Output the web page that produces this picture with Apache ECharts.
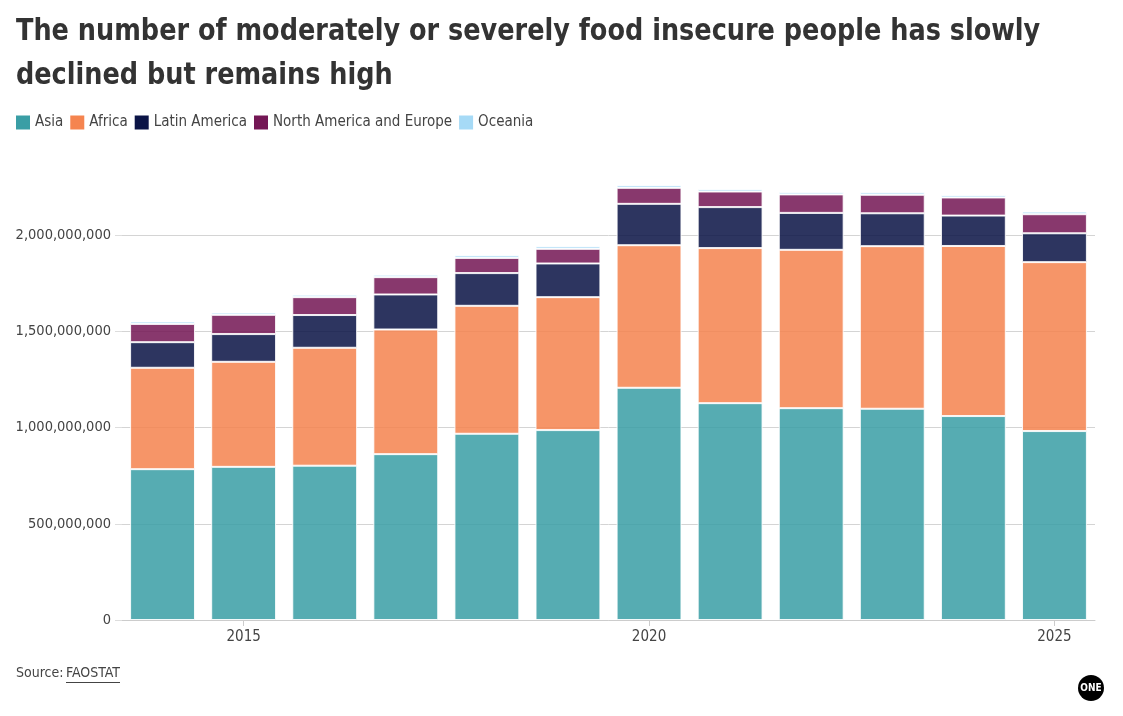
<!DOCTYPE html>
<html>
<head>
<meta charset="utf-8">
<title>Food insecurity by region</title>
<script src="https://cdn.jsdelivr.net/npm/echarts@6/dist/echarts.min.js"></script>
<style>
  html, body { margin: 0; padding: 0; background: #fff; }
  #main { width: 1123px; height: 716px; }
</style>
</head>
<body>
<div id="main"></div>
<script>
// data (people, moderately or severely food insecure)
var years = ['2014', '2015', '2016', '2017', '2018', '2019', '2020', '2021', '2022', '2023', '2024', '2025'];
var asia = [784e6, 796e6, 802e6, 862e6, 968e6, 987e6, 1207e6, 1127e6, 1101e6, 1098e6, 1060e6, 982e6];
var africa = [527e6, 546e6, 613e6, 648e6, 665e6, 691e6, 741e6, 806e6, 823e6, 845e6, 884e6, 878e6];
var latinAmerica = [133e6, 144e6, 170e6, 182e6, 170e6, 175e6, 215e6, 213e6, 192e6, 171e6, 158e6, 150e6];
var northAmEurope = [95e6, 100e6, 93e6, 90e6, 79e6, 76e6, 83e6, 81e6, 96e6, 96e6, 94e6, 99e6];
var oceania = [13e6, 12e6, 13e6, 13e6, 14e6, 14e6, 14e6, 13e6, 12e6, 13e6, 13e6, 14e6];
var yTicks = [0, 500e6, 1000e6, 1500e6, 2000e6];

var FONT = "'Liberation Sans Narrow', 'DejaVu Sans Condensed', Roboto, sans-serif";

var seriesDefs = [
  { name: 'Asia', data: asia, color: '#3a9ea5' },
  { name: 'Africa', data: africa, color: '#f5844f' },
  { name: 'Latin America', data: latinAmerica, color: '#0b1446' },
  { name: 'North America and Europe', data: northAmEurope, color: '#741755' },
  { name: 'Oceania', data: oceania, color: '#a6daf6' }
];

var showYear = function (idx) {
  return years[idx] === '2015' || years[idx] === '2020' || years[idx] === '2025';
};

var myChart = echarts.init(document.getElementById('main'), null, { renderer: 'canvas' });

var titleStyle = { font: 'bold 31px ' + FONT, fill: '#333333' };

var option = {
  backgroundColor: '#ffffff',
  animation: false,
  textStyle: { fontFamily: FONT },
  legend: {
    left: 16,
    top: 115,
    padding: 0,
    itemWidth: 14,
    itemHeight: 14,
    itemGap: 7,
    icon: 'rect',
    textStyle: { fontFamily: FONT, fontSize: 15, color: '#444444' },
    data: seriesDefs.map(function (s) {
      return { name: s.name, itemStyle: { color: s.color, opacity: 1, borderWidth: 0 } };
    })
  },
  grid: {
    left: 122,
    right: 28,
    top: 139,
    bottom: 96
  },
  xAxis: {
    type: 'category',
    data: years,
    axisLine: { show: true, lineStyle: { color: '#cccccc', width: 1 } },
    axisTick: {
      show: true,
      alignWithLabel: true,
      length: 6,
      interval: function (idx) { return showYear(idx); },
      lineStyle: { color: '#cccccc' }
    },
    axisLabel: {
      interval: function (idx) { return showYear(idx); },
      fontFamily: FONT,
      fontSize: 15,
      color: '#444444',
      margin: 10
    }
  },
  yAxis: {
    type: 'value',
    min: 0,
    max: 2500e6,
    interval: 500e6,
    axisLine: { show: false },
    axisTick: { show: true, length: 7, lineStyle: { color: '#dddddd' } },
    splitLine: { show: true, showMaxLine: false, lineStyle: { color: '#d4d4d4', width: 1 } },
    axisLabel: {
      showMaxLabel: false,
      fontFamily: FONT,
      fontSize: 14.5,
      color: '#444444',
      margin: 11,
      formatter: function (v) {
        if (yTicks.indexOf(v) < 0) return '';
        return v.toLocaleString('en-US');
      }
    }
  },
  series: seriesDefs.map(function (s) {
    return {
      name: s.name,
      type: 'bar',
      stack: 'total',
      barCategoryGap: '20%',
      data: s.data,
      itemStyle: { color: s.color, opacity: 0.86, borderColor: '#ffffff', borderWidth: 1 },
      emphasis: { disabled: true }
    };
  }),
  graphic: [
    {
      type: 'text',
      x: 16,
      y: 16,
      scaleX: 0.916,
      style: Object.assign({ text: 'The number of moderately or severely food insecure people has slowly' }, titleStyle)
    },
    {
      type: 'text',
      x: 16,
      y: 60,
      scaleX: 0.916,
      style: Object.assign({ text: 'declined but remains high' }, titleStyle)
    },
    {
      type: 'text',
      left: 16,
      top: 666,
      style: { text: 'Source:', font: '14px ' + FONT, fill: '#444444' }
    },
    {
      type: 'text',
      left: 66,
      top: 666,
      style: { text: 'FAOSTAT', font: '14px ' + FONT, fill: '#444444' }
    },
    {
      type: 'line',
      shape: { x1: 66, y1: 682.5, x2: 120, y2: 682.5 },
      style: { stroke: '#444444', lineWidth: 1 }
    },
    {
      type: 'circle',
      shape: { cx: 1091, cy: 688, r: 13 },
      style: { fill: '#000000' }
    },
    {
      type: 'text',
      x: 1091,
      y: 688,
      style: {
        text: 'ONE',
        font: 'bold 10px ' + FONT,
        fill: '#ffffff',
        align: 'center',
        verticalAlign: 'middle'
      }
    }
  ]
};

myChart.setOption(option);
</script>
</body>
</html>
